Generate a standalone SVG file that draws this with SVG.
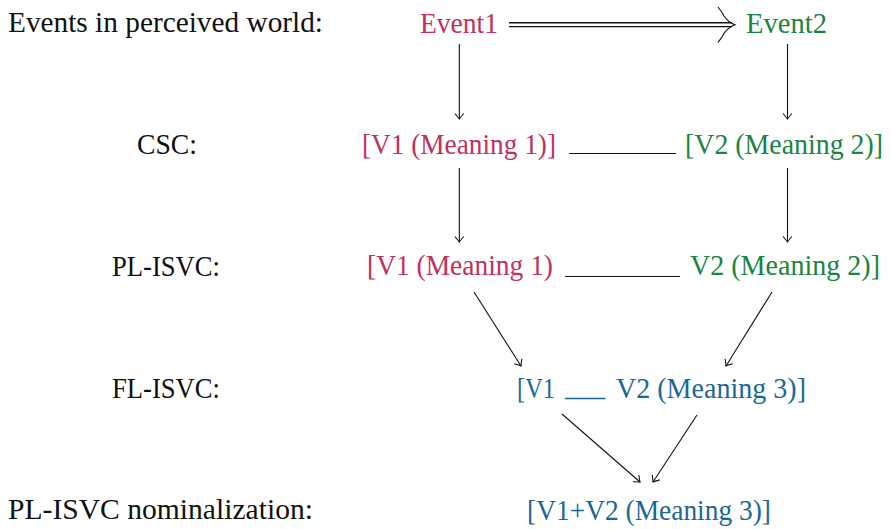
<svg xmlns="http://www.w3.org/2000/svg" width="891" height="529" viewBox="0 0 891 529">
<style>
text{font-family:"Liberation Serif","DejaVu Serif",serif;font-size:29.5px}
.lbl{fill:#111}
.r{fill:#c03160}
.g{fill:#1a8443}
.b{fill:#1c6895}
.c{stroke:#111;stroke-width:1.1;fill:none}
</style>
<defs>
<marker id="to" markerUnits="userSpaceOnUse" markerWidth="14" markerHeight="14" viewBox="-7 -7 14 14" refX="0" refY="0" orient="auto" overflow="visible">
<path d="M-5.5,-4.5 Q-1.5,-1 0,0 Q-1.5,1 -5.5,4.5" fill="none" stroke="#111" stroke-width="1.1"/>
</marker>
</defs>
<g id="labels">
<text class="lbl" x="8" y="32" textLength="315" lengthAdjust="spacingAndGlyphs">Events in perceived world:</text>
<text class="lbl" x="137" y="154" textLength="60" lengthAdjust="spacingAndGlyphs">CSC:</text>
<text class="lbl" x="112" y="276" textLength="108" lengthAdjust="spacingAndGlyphs">PL-ISVC:</text>
<text class="lbl" x="112" y="398" textLength="108" lengthAdjust="spacingAndGlyphs">FL-ISVC:</text>
<text class="lbl" x="8" y="519" textLength="305" lengthAdjust="spacingAndGlyphs">PL-ISVC nominalization:</text>
</g>
<g id="event1"><text class="r" x="420" y="33" textLength="78" lengthAdjust="spacingAndGlyphs">Event1</text></g>
<g id="event2"><text class="g" x="746" y="33" textLength="81" lengthAdjust="spacingAndGlyphs">Event2</text></g>
<g id="csc-v1"><text class="r" x="362" y="154" textLength="194" lengthAdjust="spacingAndGlyphs">[V1 (Meaning 1)]</text></g>
<g id="csc-v2"><text class="g" x="685" y="154" style="font-size:28.5px" textLength="198" lengthAdjust="spacingAndGlyphs">[V2 (Meaning 2)]</text></g>
<g id="pl-v1"><text class="r" x="367" y="275" textLength="186" lengthAdjust="spacingAndGlyphs">[V1 (Meaning 1)</text></g>
<g id="pl-v2"><text class="g" x="690" y="275" textLength="190" lengthAdjust="spacingAndGlyphs">V2 (Meaning 2)]</text></g>
<g id="fl">
<text class="b" x="517" y="398" textLength="38" lengthAdjust="spacingAndGlyphs">[V1</text>
<text class="b" x="565" y="396" textLength="40" lengthAdjust="spacingAndGlyphs">___</text>
<text class="b" x="616" y="398" textLength="190" lengthAdjust="spacingAndGlyphs">V2 (Meaning 3)]</text>
</g>
<g id="nom"><text class="b" x="527" y="520" textLength="244" lengthAdjust="spacingAndGlyphs">[V1+V2 (Meaning 3)]</text></g>
<g id="connectors">
<line x1="509" y1="24.7" x2="732" y2="24.7" stroke="#111" stroke-width="5.2"/>
<line x1="508" y1="24.7" x2="733" y2="24.7" stroke="#fff" stroke-width="2.6"/>
<path class="c" d="M718,7 Q722,12 724,16 Q728,22 735,24.7 Q728,27.4 724,33.4 Q722,37.4 718,42.4" stroke-width="1.6"/>
<line class="c" x1="459.3" y1="44" x2="459.3" y2="119" marker-end="url(#to)"/>
<line class="c" x1="787.5" y1="44" x2="787.5" y2="119" marker-end="url(#to)"/>
<line class="c" x1="569" y1="153.5" x2="676" y2="153.5" stroke-width="1.6"/>
<line class="c" x1="459.3" y1="168" x2="459.3" y2="242" marker-end="url(#to)"/>
<line class="c" x1="787.5" y1="168" x2="787.5" y2="242" marker-end="url(#to)"/>
<line class="c" x1="565" y1="276.5" x2="680" y2="276.5" stroke-width="1.6"/>
<line class="c" x1="474" y1="292" x2="521" y2="366" marker-end="url(#to)"/>
<line class="c" x1="772" y1="292" x2="726" y2="366" marker-end="url(#to)"/>
<line class="c" x1="562" y1="414" x2="640" y2="482" marker-end="url(#to)"/>
<line class="c" x1="697" y1="415" x2="653" y2="482" marker-end="url(#to)"/>
</g>
</svg>
